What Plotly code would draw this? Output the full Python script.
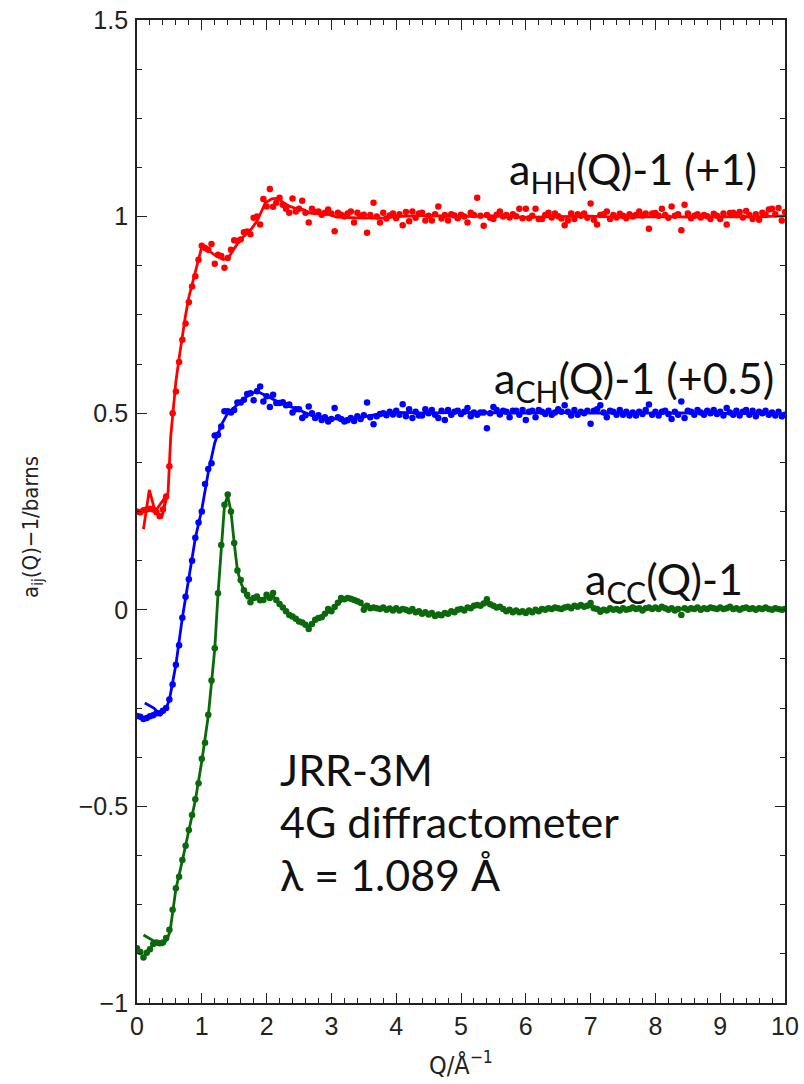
import plotly.graph_objects as go

# ---------------- data ----------------
# Q sampling of the measured points (Å^-1)
q_data = [round(0.05 * i, 2) for i in range(201)]

# a_HH(Q)-1 measured points (shifted +1 when plotted)
hh_data = [
    -0.750, -0.752, -0.747, -0.745, -0.743, -0.745, -0.752, -0.762, -0.745, -0.712,
    -0.635, -0.500, -0.445, -0.370, -0.313, -0.272, -0.218, -0.178, -0.152, -0.110,
    -0.074, -0.080, -0.084, -0.070, -0.120, -0.097, -0.100, -0.130, -0.105, -0.084,
    -0.060, -0.062, -0.058, -0.040, -0.038, -0.045, -0.003, 0.000, -0.020, 0.045,
    0.026, 0.070, 0.025, 0.035, 0.048, 0.030, 0.020, 0.010, 0.046, 0.013,
    0.020, 0.040, 0.010, -0.015, 0.020, 0.012, 0.013, 0.005, 0.010, 0.018,
    0.008, -0.037, 0.010, 0.005, 0.000, 0.008, 0.013, -0.015, 0.010, 0.002,
    0.005, -0.041, 0.004, 0.035, 0.000, -0.015, 0.010, -0.005, 0.003, 0.008,
    -0.004, 0.006, -0.022, 0.012, -0.012, 0.013, -0.003, 0.008, 0.010, -0.010,
    0.002, -0.010, 0.006, 0.026, -0.005, 0.004, -0.010, 0.006, 0.003, -0.004,
    0.005, 0.000, -0.015, 0.010, 0.004, 0.048, 0.002, -0.023, 0.004, -0.003,
    -0.006, 0.005, 0.013, 0.000, 0.004, -0.002, 0.006, 0.001, 0.020, -0.004,
    0.020, -0.004, 0.002, 0.020, -0.006, -0.006, 0.004, 0.010, -0.002, 0.008,
    0.001, -0.005, -0.022, -0.010, 0.008, -0.006, 0.006, 0.002, 0.008, -0.003,
    0.033, -0.008, -0.020, 0.004, 0.006, 0.013, -0.006, 0.004, -0.002, 0.007,
    0.002, -0.004, 0.006, 0.000, 0.004, 0.013, 0.003, 0.008, -0.031, 0.008,
    0.009, 0.002, 0.020, 0.004, -0.003, 0.026, 0.002, 0.006, -0.035, 0.030,
    0.008, -0.004, 0.002, 0.006, -0.002, 0.004, 0.001, -0.006, 0.007, 0.002,
    -0.006, 0.008, -0.020, 0.009, 0.010, 0.004, 0.012, -0.002, 0.014, 0.004,
    -0.006, 0.006, -0.008, 0.010, 0.004, 0.018, 0.020, 0.006, 0.022, -0.010,
    0.012,
]

# a_CH(Q)-1 measured points (shifted +0.5 when plotted)
ch_data = [
    -0.770, -0.772, -0.778, -0.775, -0.771, -0.768, -0.763, -0.763, -0.757, -0.750,
    -0.728, -0.690, -0.640, -0.590, -0.520, -0.467, -0.422, -0.375, -0.317, -0.278,
    -0.250, -0.180, -0.142, -0.127, -0.057, -0.055, -0.034, 0.005, 0.005, 0.002,
    0.008, 0.027, 0.027, 0.034, 0.049, 0.051, 0.033, 0.056, 0.068, 0.030,
    0.043, 0.016, 0.047, 0.026, 0.026, 0.028, 0.020, 0.022, 0.002, 0.010,
    0.010, -0.012, -0.005, 0.017, 0.000, -0.012, -0.005, -0.017, -0.010, -0.021,
    -0.015, 0.013, -0.010, -0.015, -0.021, -0.018, -0.012, -0.020, -0.008, -0.015,
    -0.005, 0.027, -0.010, -0.028, -0.008, -0.002, 0.000, -0.005, 0.004, -0.003,
    0.006, -0.004, 0.023, -0.008, 0.010, -0.012, 0.004, -0.006, -0.006, 0.010,
    0.000, 0.008, -0.004, -0.012, 0.006, -0.017, 0.008, -0.004, 0.004, 0.006,
    -0.002, 0.004, 0.013, -0.008, 0.002, -0.004, 0.002, 0.002, -0.038, 0.000,
    0.016, 0.008, -0.003, 0.006, 0.004, -0.010, 0.006, 0.006, -0.004, 0.008,
    -0.017, 0.004, 0.006, -0.010, 0.008, 0.004, -0.002, 0.006, -0.004, 0.002,
    0.010, 0.004, 0.020, 0.004, -0.006, 0.008, -0.004, 0.004, 0.000, 0.006,
    -0.027, 0.006, 0.010, 0.020, 0.002, -0.010, 0.006, 0.004, -0.004, 0.008,
    -0.004, 0.004, -0.006, 0.002, -0.006, 0.004, -0.002, 0.008, 0.022, -0.004,
    0.004, -0.006, 0.004, 0.006, -0.002, -0.015, 0.004, -0.004, 0.030, -0.012,
    0.006, 0.004, -0.004, 0.008, 0.002, -0.004, 0.006, 0.000, 0.008, -0.002,
    0.004, -0.006, 0.013, 0.002, -0.004, 0.006, -0.006, 0.004, 0.008, -0.004,
    0.006, -0.008, 0.004, 0.000, 0.006, -0.004, 0.002, -0.006, 0.004, -0.008,
    -0.004,
]

# a_CC(Q)-1 measured points (no shift)
cc_data = [
    -0.861, -0.870, -0.884, -0.872, -0.863, -0.850, -0.846, -0.848, -0.846, -0.835,
    -0.814, -0.763, -0.708, -0.679, -0.636, -0.600, -0.560, -0.522, -0.482, -0.441,
    -0.379, -0.338, -0.267, -0.180, -0.098, 0.042, 0.165, 0.267, 0.293, 0.250,
    0.170, 0.100, 0.076, 0.050, 0.038, 0.019, 0.030, 0.034, 0.024, 0.025,
    0.038, 0.030, 0.043, 0.025, 0.015, 0.006, -0.004, -0.013, -0.017, -0.023,
    -0.030, -0.032, -0.038, -0.049, -0.036, -0.025, -0.021, -0.019, -0.010, 0.002,
    -0.004, 0.007, 0.018, 0.030, 0.027, 0.030, 0.028, 0.025, 0.022, 0.018,
    0.000, 0.010, 0.004, 0.006, 0.004, 0.002, 0.006, 0.000, 0.003, -0.002,
    0.004, -0.002, 0.002, 0.000, -0.004, 0.002, -0.006, -0.004, -0.010, -0.006,
    -0.012, -0.008, -0.016, -0.012, -0.014, -0.008, -0.010, -0.004, -0.006, 0.000,
    0.002, -0.002, 0.006, 0.004, 0.010, 0.012, 0.010, 0.016, 0.027, 0.014,
    0.010, 0.006, 0.008, 0.002, -0.004, 0.000, -0.006, -0.002, -0.006, -0.004,
    -0.008, -0.002, -0.006, 0.000, -0.004, 0.002, 0.000, 0.004, 0.002, 0.006,
    0.004, 0.002, 0.006, 0.008, 0.004, 0.010, 0.008, 0.012, 0.008, 0.010,
    0.017, 0.004, 0.002, -0.005, 0.000, -0.002, 0.004, 0.000, 0.002, -0.002,
    0.004, 0.000, 0.002, 0.006, 0.002, 0.004, -0.002, 0.004, 0.006, 0.002,
    0.006, 0.002, 0.008, 0.004, 0.000, 0.004, -0.002, 0.002, -0.013, 0.004,
    0.000, 0.004, 0.002, 0.006, 0.000, 0.004, 0.002, 0.006, 0.004, 0.002,
    0.006, 0.002, 0.004, 0.008, 0.002, 0.004, 0.000, 0.004, 0.006, 0.002,
    0.004, 0.000, 0.004, 0.002, 0.006, 0.002, 0.000, 0.004, 0.002, 0.000,
    0.002,
]

# smooth curves (lines)
hh_line_q = [0.10, 0.19, 0.28, 0.45, 0.38, 0.48, 0.52, 0.56, 0.60, 0.65, 0.69, 0.75, 0.80,
             0.84, 0.90, 0.94, 1.00, 1.10, 1.23, 1.33, 1.41, 1.49, 1.59, 1.74, 1.85, 1.92,
             1.98, 2.08, 2.18, 2.26, 2.36, 2.46, 2.57, 2.67, 2.98, 3.08, 3.49, 3.78, 4.0,
             4.5, 5.0, 5.5, 6.0, 6.5, 7.0, 7.5, 8.0, 8.5, 9.0, 9.5, 10.0]
hh_line_v = [-0.795, -0.695, -0.750, -0.710, -0.767, -0.700, -0.560, -0.480, -0.420, -0.360,
             -0.313, -0.250, -0.205, -0.180, -0.135, -0.110, -0.077, -0.086, -0.101, -0.109,
             -0.105, -0.084, -0.059, -0.037, -0.012, 0.013, 0.035, 0.045, 0.047, 0.035,
             0.026, 0.020, 0.018, 0.009, 0.005, -0.001, -0.004, -0.004, 0.000, 0.003,
             0.000, 0.002, -0.002, 0.000, 0.001, -0.002, 0.000, -0.001, 0.000, -0.001, 0.002]

ch_line_q = [0.12, 0.26, 0.36, 0.44, 0.50, 0.54, 0.60, 0.70, 0.80, 0.90, 1.00, 1.10, 1.20,
             1.30, 1.40, 1.50, 1.60, 1.70, 1.80, 1.85, 1.90, 2.00, 2.10, 2.20, 2.30, 2.40,
             2.50, 2.60, 2.70, 2.80, 3.00, 3.20, 3.40, 3.60, 3.80, 4.0, 4.5, 5.0, 5.5, 6.0,
             6.5, 7.0, 7.5, 8.0, 8.5, 9.0, 9.5, 10.0]
ch_line_v = [-0.737, -0.750, -0.767, -0.754, -0.729, -0.690, -0.640, -0.520, -0.420, -0.318,
             -0.245, -0.150, -0.075, -0.030, 0.000, 0.015, 0.030, 0.043, 0.052, 0.054,
             0.052, 0.043, 0.035, 0.027, 0.020, 0.015, 0.008, 0.000, -0.006, -0.010,
             -0.014, -0.015, -0.012, -0.006, 0.000, 0.002, 0.000, 0.002, 0.001, 0.000,
             0.002, 0.000, 0.001, 0.000, 0.001, 0.000, 0.000, -0.002]

cc_line_q = [0.10, 0.28, 0.39, 0.46, 0.51, 0.55, 0.60, 0.70, 0.80, 0.90, 1.00, 1.10, 1.15,
             1.20, 1.25, 1.30, 1.35, 1.40, 1.45, 1.50, 1.55, 1.60, 1.65, 1.70, 1.80, 1.90,
             2.00, 2.10, 2.20, 2.30, 2.40, 2.50, 2.60, 2.65, 2.70, 2.80, 2.90, 3.00, 3.10,
             3.20, 3.30, 3.40, 3.50, 3.60, 3.80, 4.00, 4.20, 4.40, 4.60, 4.80, 5.00, 5.20,
             5.40, 5.50, 5.70, 5.90, 6.10, 6.40, 6.70, 6.90, 7.00, 7.20, 7.50, 8.00, 8.50,
             9.00, 9.50, 10.00]
cc_line_v = [-0.827, -0.844, -0.852, -0.840, -0.818, -0.765, -0.710, -0.638, -0.560, -0.485,
             -0.385, -0.270, -0.185, -0.100, 0.040, 0.165, 0.265, 0.290, 0.250, 0.170,
             0.100, 0.070, 0.048, 0.030, 0.028, 0.026, 0.032, 0.035, 0.015, -0.004,
             -0.017, -0.028, -0.036, -0.042, -0.036, -0.022, -0.012, 0.000, 0.015, 0.027,
             0.028, 0.022, 0.008, 0.005, 0.004, 0.002, -0.002, -0.008, -0.013, -0.009,
             0.001, 0.009, 0.016, 0.010, -0.002, -0.004, -0.003, 0.003, 0.007, 0.009,
             0.008, 0.000, 0.002, 0.004, 0.002, 0.004, 0.003, 0.002]

offsets = {"HH": 1.0, "CH": 0.5, "CC": 0.0}
colors = {"HH": "#ff0000", "CH": "#0000ff", "CC": "#0b690b"}

series = [
    ("CC", cc_data, cc_line_q, cc_line_v),
    ("CH", ch_data, ch_line_q, ch_line_v),
    ("HH", hh_data, hh_line_q, hh_line_v),
]

fig = go.Figure()
for name, pts, lq, lv in series:
    off = offsets[name]
    col = colors[name]
    fig.add_trace(go.Scatter(
        x=lq, y=[v + off for v in lv], mode="lines",
        line=dict(color=col, width=2.8), showlegend=False, hoverinfo="skip"))
    fig.add_trace(go.Scatter(
        x=q_data, y=[v + off for v in pts], mode="markers",
        marker=dict(color=col, size=6.5, line=dict(width=0)), showlegend=False))

tick_font = dict(family="Liberation Sans, Arial, sans-serif", size=25, color="#222")
label_font = dict(family="Lato, Open Sans, sans-serif", size=43, color="#111")
narrow = "Liberation Sans Narrow, DejaVu Sans Condensed, Liberation Sans"

fig.update_layout(
    width=804, height=1084,
    margin=dict(l=137, r=19, t=20, b=81, autoexpand=False),
    plot_bgcolor="white", paper_bgcolor="white",
    xaxis=dict(
        range=[0, 10], dtick=1, tick0=0, ticks="inside", ticklen=10, tickwidth=1,
        tickcolor="#222", showline=True, linecolor="#222", linewidth=1.8,
        mirror="allticks", showgrid=False, zeroline=False, tickfont=tick_font,
        automargin=False,
        minor=dict(dtick=0.2, tick0=0, ticks="inside", ticklen=5, tickcolor="#222",
                   showgrid=False),
    ),
    yaxis=dict(
        range=[-1, 1.5], dtick=0.5, tick0=0, ticks="inside", ticklen=10, tickwidth=1,
        tickcolor="#222", showline=True, linecolor="#222", linewidth=1.8,
        mirror="allticks", showgrid=False, zeroline=False, tickfont=tick_font,
        ticklabelstandoff=2, automargin=False,
        minor=dict(dtick=0.125, tick0=0, ticks="inside", ticklen=5, tickcolor="#222",
                   showgrid=False),
    ),
)

annotations = [
    dict(text="a<sub>HH</sub>(Q)-1 (+1)", x=9.6, y=1.114, xanchor="right", yanchor="middle"),
    dict(text="a<sub>CH</sub>(Q)-1 (+0.5)", x=9.86, y=0.583, xanchor="right", yanchor="middle"),
    dict(text="a<sub>CC</sub>(Q)-1", x=9.38, y=0.072, xanchor="right", yanchor="middle"),
    dict(text="JRR-3M", x=2.18, y=-0.407, xanchor="left", yanchor="middle"),
    dict(text="4G diffractometer", x=2.18, y=-0.539, xanchor="left", yanchor="middle"),
    dict(text="λ = 1.089 Å", x=2.18, y=-0.674, xanchor="left", yanchor="middle"),
]
for a in annotations:
    fig.add_annotation(xref="x", yref="y", showarrow=False, font=label_font, **a)

fig.add_annotation(
    text="a<sub>ij</sub>(Q)−1/barns", xref="paper", yref="paper",
    x=(32 - 137) / 648, y=(1003 - 527) / 983, xanchor="center", yanchor="middle",
    textangle=-90, showarrow=False,
    font=dict(family=narrow, size=22, color="#222"))
fig.add_annotation(
    text="Q/Å<sup>−1</sup>", xref="paper", yref="paper",
    x=0.5, y=-60 / 983, xanchor="center", yanchor="middle", showarrow=False,
    font=dict(family=narrow, size=25, color="#222"))

fig.write_html("out.html")
